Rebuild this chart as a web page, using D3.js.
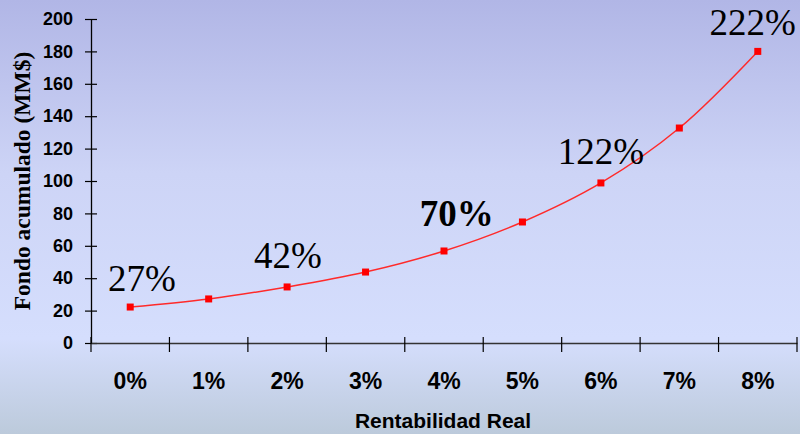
<!DOCTYPE html>
<html>
<head>
<meta charset="utf-8">
<script src="https://cdn.jsdelivr.net/npm/d3@7"></script>
<style>
  body { margin: 0; }
  svg { display: block; }
</style>
</head>
<body>
<script>
var categories = ["0%", "1%", "2%", "3%", "4%", "5%", "6%", "7%", "8%"];
var fondo = [22.2, 27.2, 34.6, 43.8, 56.8, 74.7, 98.8, 132.7, 180];
var yTicks = [0, 20, 40, 60, 80, 100, 120, 140, 160, 180, 200];
var notes = [
  { cat: "0%", text: "27%", dx: 17, y: 291, bold: false },
  { cat: "2%", text: "42%", dx: 6, y: 268, bold: false },
  { cat: "4%", text: "70%", dx: 15, y: 226, bold: true },
  { cat: "6%", text: "122%", dx: -4, y: 164, bold: false },
  { cat: "8%", text: "222%", dx: -9, y: 35, bold: false }
];

var width = 800, height = 434;
var margin = { left: 91, right: 3, top: 19, bottom: 91 };

var svg = d3.select("body").append("svg")
            .attr("width", width)
            .attr("height", height);

var grad = svg.append("defs").append("linearGradient")
              .attr("id", "bg")
              .attr("x1", 0).attr("y1", 0).attr("x2", 0).attr("y2", 1);
grad.append("stop").attr("offset", "0%").attr("stop-color", "#b1b6e6");
grad.append("stop").attr("offset", "40%").attr("stop-color", "#cdd4f6");
grad.append("stop").attr("offset", "78%").attr("stop-color", "#d5defd");
grad.append("stop").attr("offset", "100%").attr("stop-color", "#bccadb");

svg.append("rect")
   .attr("width", width)
   .attr("height", height)
   .attr("fill", "url(#bg)");

var x = d3.scaleBand()
          .domain(categories)
          .range([margin.left, width - margin.right]);

var y = d3.scaleLinear()
          .domain([0, 200])
          .range([height - margin.bottom, margin.top]);

// y axis
var yAxis = svg.append("g")
               .attr("transform", "translate(" + margin.left + ",0)")
               .call(d3.axisLeft(y).tickValues(yTicks).tickSize(6).tickSizeOuter(0).tickPadding(12));
yAxis.select(".domain").attr("stroke", "#000").attr("stroke-width", 1.3);
yAxis.selectAll(".tick line").attr("stroke", "#000").attr("stroke-width", 1.2)
     .attr("x2", 6).attr("x1", -6);
yAxis.selectAll(".tick text")
     .attr("font-family", "Liberation Sans, Arial, sans-serif")
     .attr("font-weight", "bold")
     .attr("font-size", 18)
     .attr("fill", "#000");

// x axis
var xAxis = svg.append("g")
               .attr("transform", "translate(0," + y(0) + ")")
               .call(d3.axisBottom(x).tickSize(0).tickPadding(30));
xAxis.select(".domain").attr("stroke", "#333").attr("stroke-width", 1.5);
xAxis.selectAll(".tick text")
     .attr("font-family", "Liberation Sans, Arial, sans-serif")
     .attr("font-weight", "bold")
     .attr("font-size", 23)
     .attr("fill", "#000");

var bounds = categories.map(function (c) { return x(c); }).concat([x.range()[1]]);
svg.append("g").selectAll("line")
   .data(bounds)
   .enter().append("line")
   .attr("x1", function (d) { return d; })
   .attr("x2", function (d) { return d; })
   .attr("y1", y(0) - 6)
   .attr("y2", y(0) + 9)
   .attr("stroke", "#000")
   .attr("stroke-width", 1.2);

// axis titles
svg.append("text")
   .attr("x", (margin.left + width - margin.right) / 2 - 1)
   .attr("y", 428)
   .attr("text-anchor", "middle")
   .attr("font-family", "Liberation Sans, Arial, sans-serif")
   .attr("font-weight", "bold")
   .attr("font-size", 21)
   .text("Rentabilidad Real");

svg.append("text")
   .attr("transform", "translate(30,181) rotate(-90)")
   .attr("text-anchor", "middle")
   .attr("font-family", "Liberation Serif, Times New Roman, serif")
   .attr("font-weight", "bold")
   .attr("font-size", 23.5)
   .text("Fondo acumulado (MM$)");

// line
var pts = categories.map(function (c, i) { return [x(c) + x.bandwidth() / 2, y(fondo[i])]; });
svg.append("path")
   .attr("d", d3.line().curve(d3.curveCatmullRom)(pts))
   .attr("fill", "none")
   .attr("stroke", "#ff2a2a")
   .attr("stroke-width", 1.5);

svg.append("g").selectAll("rect")
   .data(pts)
   .enter().append("rect")
   .attr("x", function (d) { return d[0] - 3.5; })
   .attr("y", function (d) { return d[1] - 3.5; })
   .attr("width", 7)
   .attr("height", 7)
   .attr("fill", "#ff0000");

// annotations
svg.append("g").selectAll("text")
   .data(notes)
   .enter().append("text")
   .attr("x", function (d) { return x(d.cat) + d.dx; })
   .attr("y", function (d) { return d.y; })
   .attr("font-family", "Liberation Serif, Times New Roman, serif")
   .attr("font-size", 37)
   .attr("font-weight", function (d) { return d.bold ? "bold" : "normal"; })
   .attr("fill", "#000")
   .text(function (d) { return d.text; });
</script>
</body>
</html>
